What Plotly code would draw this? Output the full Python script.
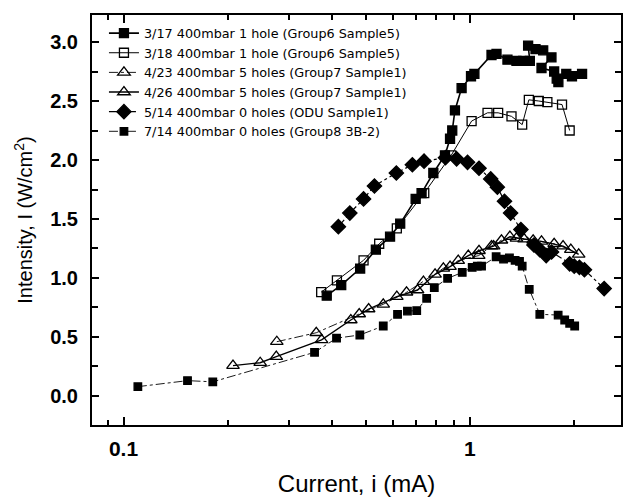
import plotly.graph_objects as go

# 3/17 400mbar 1 hole (Group6 Sample5)
x_317 = [0.386, 0.425, 0.482, 0.535, 0.588, 0.629, 0.697, 0.725, 0.784, 0.847, 0.876, 0.889, 0.905,
         0.946, 1.007, 1.03, 1.154, 1.193, 1.283, 1.362, 1.424, 1.489, 1.472, 1.546, 1.627, 1.719,
         1.609, 1.75, 1.78, 1.80, 1.897, 1.97, 2.107]
y_317 = [0.85, 0.94, 1.08, 1.24, 1.35, 1.46, 1.67, 1.72, 1.89, 2.04, 2.18, 2.25, 2.42,
         2.61, 2.71, 2.73, 2.89, 2.90, 2.85, 2.84, 2.84, 2.84, 2.97, 2.94, 2.93, 2.87,
         2.78, 2.75, 2.69, 2.66, 2.73, 2.71, 2.73]

# 3/18 400mbar 1 hole (Group6 Sample5)
x_318 = [0.372, 0.413, 0.493, 0.547, 0.615, 0.738, 0.883, 1.011, 1.124, 1.206, 1.318, 1.415,
         1.479, 1.58, 1.673, 1.844, 1.94]
y_318 = [0.88, 0.98, 1.15, 1.29, 1.42, 1.72, 2.04, 2.33, 2.40, 2.40, 2.37, 2.30,
         2.51, 2.50, 2.49, 2.47, 2.25]

# 4/23 400mbar 5 holes (Group7 Sample1)
x_423 = [0.277, 0.36, 0.479, 0.562, 0.656, 0.734, 0.838, 0.925, 1.06, 1.154, 1.233, 1.362,
         1.522, 1.75, 1.955]
y_423 = [0.46, 0.536, 0.695, 0.777, 0.879, 0.969, 1.082, 1.147, 1.19, 1.271, 1.32, 1.336,
         1.32, 1.29, 1.24]

# 4/26 400mbar 5 holes (Group7 Sample1)
x_426 = [0.207, 0.248, 0.276, 0.373, 0.453, 0.51, 0.615, 0.706, 0.793, 0.876, 0.989, 1.062,
         1.17, 1.304, 1.433, 1.609, 1.857, 2.06]
y_426 = [0.257, 0.282, 0.333, 0.475, 0.644, 0.737, 0.842, 0.898, 1.031, 1.096, 1.189, 1.231,
         1.27, 1.35, 1.33, 1.31, 1.27, 1.20]

# 5/14 400mbar 0 holes (ODU Sample1)
x_514 = [0.417, 0.45, 0.493, 0.53, 0.613, 0.682, 0.737, 0.85, 0.915, 0.984, 1.062, 1.148,
         1.20, 1.258, 1.31, 1.403, 1.53, 1.59, 1.66, 1.72, 1.94, 2.00, 2.07, 2.14, 2.44]
y_514 = [1.435, 1.55, 1.67, 1.78, 1.89, 1.96, 1.99, 2.02, 2.01, 1.98, 1.93, 1.84,
         1.77, 1.65, 1.55, 1.41, 1.28, 1.24, 1.19, 1.22, 1.12, 1.10, 1.09, 1.07, 0.91]

# 7/14 400mbar 0 holes (Group8 3B-2)
x_714 = [0.110, 0.153, 0.181, 0.356, 0.412, 0.481, 0.562, 0.618, 0.66, 0.702, 0.75, 0.789,
         0.862, 0.95, 1.015, 1.05, 1.08, 1.19, 1.25, 1.30, 1.35, 1.39, 1.415, 1.483, 1.591,
         1.797, 1.877, 1.94, 2.006]
y_714 = [0.079, 0.13, 0.12, 0.37, 0.49, 0.517, 0.593, 0.692, 0.72, 0.723, 0.828, 0.918,
         0.997, 1.047, 1.09, 1.10, 1.10, 1.18, 1.16, 1.17, 1.15, 1.14, 1.10, 0.904, 0.692,
         0.686, 0.644, 0.616, 0.593]

names = ["3/17 400mbar 1 hole (Group6 Sample5)",
         "3/18 400mbar 1 hole (Group6 Sample5)",
         "4/23 400mbar 5 holes (Group7 Sample1)",
         "4/26 400mbar 5 holes (Group7 Sample1)",
         "5/14 400mbar 0 holes (ODU Sample1)",
         "7/14 400mbar 0 holes (Group8 3B-2)"]

series = [
    (x_317, y_317, "square", 9, 1.6, "solid"),
    (x_318, y_318, "square-open", 9, 1.0, "solid"),
    (x_423, y_423, "triangle-up-open", 11, 0.9, "dashdot"),
    (x_426, y_426, "triangle-up-open", 11, 1.4, "solid"),
    (x_514, y_514, "diamond", 11, 1.2, "dashdot"),
    (x_714, y_714, "square", 7.5, 0.9, "dashdot"),
]

fig = go.Figure()
for (xs, ys, sym, size, lw, dash), nm in zip(series, names):
    fig.add_trace(go.Scatter(
        x=xs, y=ys, name=nm, mode="lines+markers",
        line=dict(color="black", width=lw, dash=dash),
        marker=dict(symbol=sym, size=size, color="black",
                    line=dict(color="black", width=1.3)),
    ))

axis_common = dict(showline=True, linecolor="black", linewidth=2, mirror="ticks",
                   ticks="inside", tickcolor="black", showgrid=False, zeroline=False)

fig.update_xaxes(type="log", range=[-1.091, 0.436],
                 tickvals=[0.1, 1], ticktext=["0.1", "1"], ticklen=8, tickwidth=2,
                 ticklabelstandoff=4,
                 tickfont=dict(family="Liberation Sans", size=21, color="black", weight="bold"),
                 minor=dict(tickvals=[0.09, 0.2, 0.3, 0.4, 0.5, 0.6, 0.7, 0.8, 0.9, 2],
                            ticks="inside", ticklen=5, tickwidth=1.5, tickcolor="black"),
                 title=dict(text="Current, i (mA)", standoff=16,
                            font=dict(family="Liberation Sans", size=24, color="black")),
                 **axis_common)
fig.update_yaxes(range=[-0.246, 3.229], tickvals=[0, 0.5, 1, 1.5, 2, 2.5, 3],
                 ticktext=["0.0", "0.5", "1.0", "1.5", "2.0", "2.5", "3.0"],
                 ticklen=7, tickwidth=2, ticklabelstandoff=8,
                 tickfont=dict(family="Liberation Sans", size=20, color="black", weight="bold"),
                 minor=dict(dtick=0.25, ticks="inside", ticklen=6, tickwidth=1.5, tickcolor="black"),
                 title=dict(text="Intensity, I (W/cm<sup>2</sup>)", standoff=12,
                            font=dict(family="Liberation Sans", size=20, color="black")),
                 **axis_common)

fig.update_layout(
    width=628, height=504,
    margin=dict(l=92, r=5, t=15, b=79),
    paper_bgcolor="white", plot_bgcolor="white",
    legend=dict(x=0.0226, y=0.992, xanchor="left", yanchor="top",
                bgcolor="rgba(0,0,0,0)", tracegroupgap=0, itemwidth=30,
                font=dict(family="DejaVu Sans", size=12.8, color="black")),
)

fig.write_html("out.html")
